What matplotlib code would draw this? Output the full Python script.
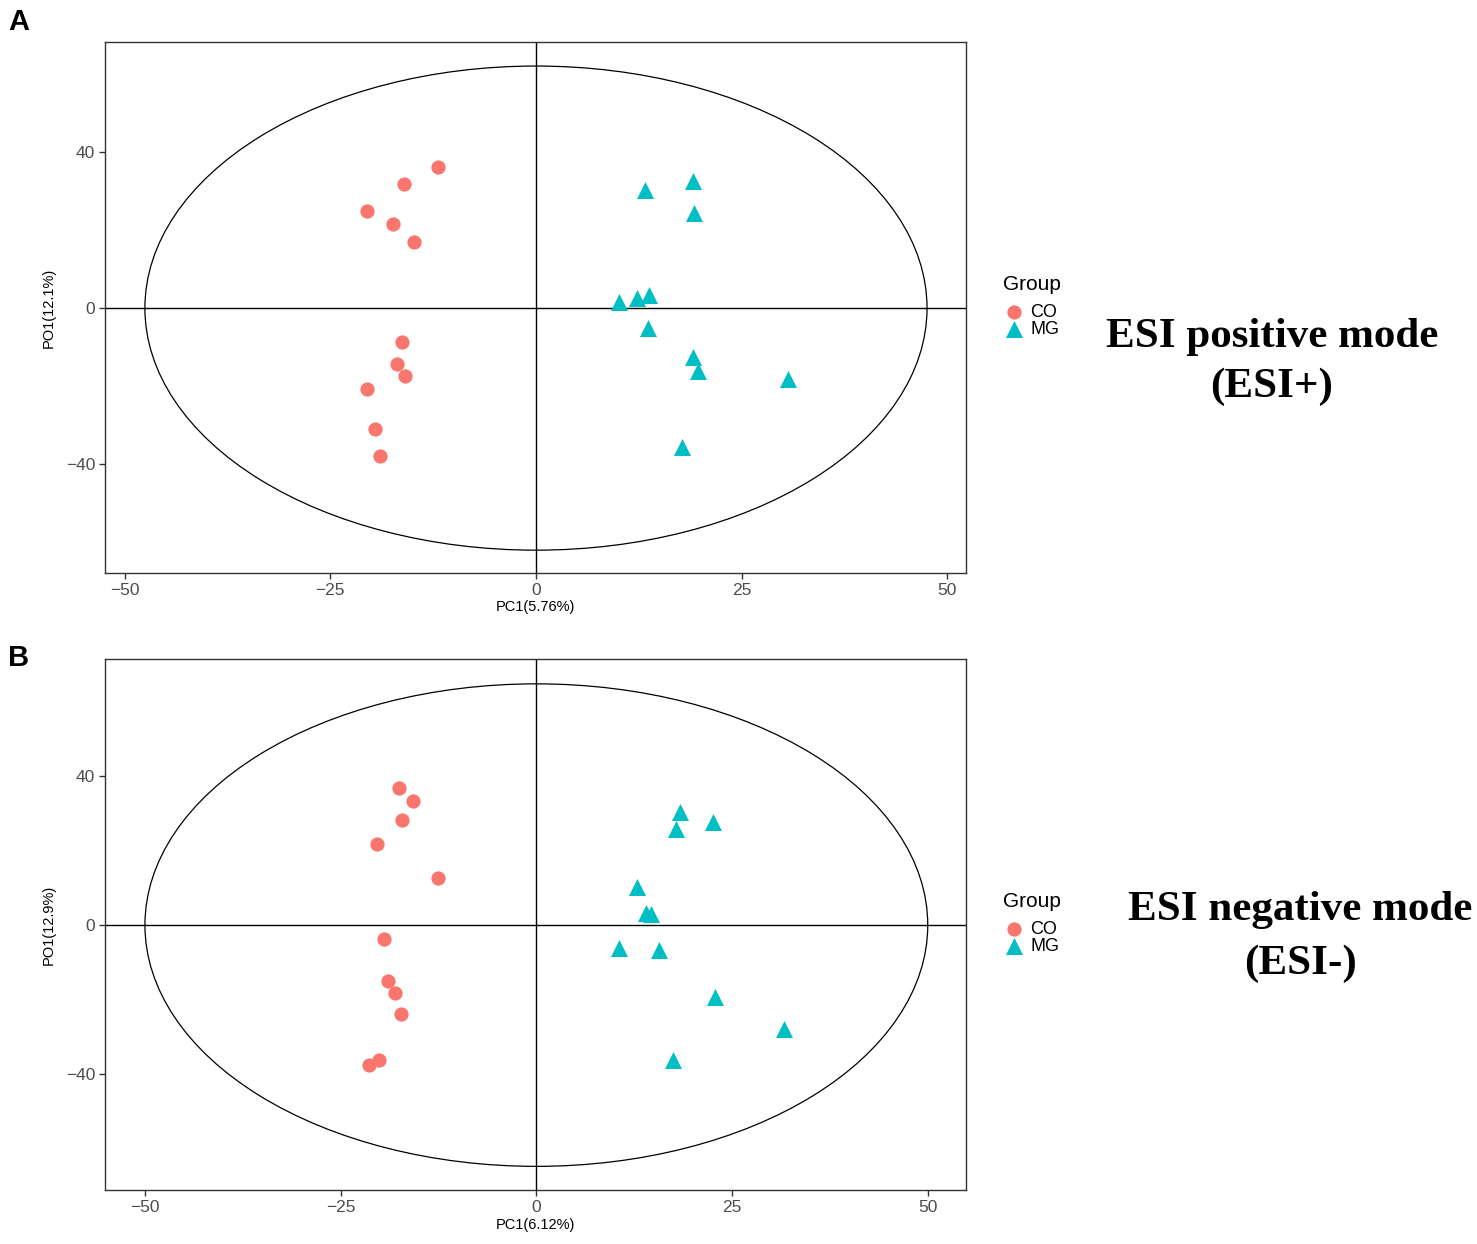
import matplotlib.pyplot as plt
from matplotlib.patches import Ellipse

plt.rcParams['font.family'] = ['Liberation Sans', 'DejaVu Sans']

# --- DATA ---
# panel A, ESI+
co_x_pos = [-11.9, -16.1, -20.5, -17.4, -14.8, -16.3, -16.9, -15.9, -20.5, -19.6, -19.0]
co_y_pos = [36.1, 31.8, 24.9, 21.6, 16.9, -8.6, -14.4, -17.5, -20.8, -30.9, -37.8]
mg_x_pos = [13.2, 19.1, 19.2, 10.1, 12.3, 13.8, 13.6, 19.1, 19.7, 30.7, 17.8]
mg_y_pos = [30.3, 32.5, 24.4, 1.5, 2.6, 3.3, -5.1, -12.6, -16.1, -18.2, -35.5]

# panel B, ESI-
co_x_neg = [-17.6, -15.7, -17.2, -20.4, -12.5, -19.5, -19.0, -18.0, -17.3, -20.1, -21.4]
co_y_neg = [36.9, 33.3, 28.1, 21.9, 12.6, -3.7, -14.9, -18.1, -23.8, -36.1, -37.6]
mg_x_neg = [18.3, 17.8, 22.6, 12.8, 14.0, 14.7, 10.6, 15.7, 22.8, 31.6, 17.5]
mg_y_neg = [30.3, 25.9, 27.7, 10.2, 3.2, 3.1, -6.2, -6.8, -19.3, -27.8, -36.1]

ellipse_pos = (95.1, 124.1)   # width, height (T2 ellipse)
ellipse_neg = (100.0, 129.5)

x_ticks = [-50, -25, 0, 25, 50]
y_ticks = [-40, 0, 40]

CO_COLOR = '#F8766D'
MG_COLOR = '#00BFC4'

fig = plt.figure(figsize=(14.77, 12.44), dpi=100)


def draw_panel(rect, cox, coy, mgx, mgy, ell, xlim, ylim, xlabel, ylabel):
    ax = fig.add_axes(rect)
    ax.axhline(0, color='black', lw=1.0, zorder=1)
    ax.axvline(0, color='black', lw=1.0, zorder=1)
    ax.add_patch(Ellipse((0, 0), ell[0], ell[1], fill=False, ec='black', lw=0.9, zorder=1))
    ax.scatter(cox, coy, s=105, marker='o', color=CO_COLOR, lw=0, zorder=3, label='CO')
    ax.scatter(mgx, mgy, s=150, marker='^', color=MG_COLOR, lw=0, zorder=3, label='MG')
    ax.set_xlim(*xlim)
    ax.set_ylim(*ylim)
    ax.set_xticks(x_ticks)
    ax.set_yticks(y_ticks)
    ax.set_xticklabels([str(t).replace('-', '\u2212') for t in x_ticks])
    ax.set_yticklabels([str(t).replace('-', '\u2212') for t in y_ticks])
    ax.tick_params(direction='out', length=4, width=1, color='#333333',
                   labelsize=12.5, labelcolor='#4D4D4D', pad=3)
    for sp in ax.spines.values():
        sp.set_color('#333333')
        sp.set_linewidth(1.0)
    ax.set_xlabel(xlabel, fontsize=10.5, labelpad=2)
    ax.set_ylabel(ylabel, fontsize=10.5, labelpad=7)
    leg = ax.legend(title='Group', loc='upper left', bbox_to_anchor=(1.035, 0.574),
                    frameon=False, fontsize=13, title_fontsize=15,
                    handletextpad=0.3, labelspacing=0.0, borderaxespad=0,
                    markerscale=1.0, handlelength=1.2)
    leg._legend_box.align = 'left'
    leg._legend_box.sep = 7
    return ax


ax_a = draw_panel([0.0711, 0.5394, 0.583, 0.4268], co_x_pos, co_y_pos, mg_x_pos, mg_y_pos,
                  ellipse_pos, (-52.4, 52.3), (-67.9, 68.2), 'PC1(5.76%)', 'PO1(12.1%)')
ax_b = draw_panel([0.0711, 0.0434, 0.583, 0.4268], co_x_neg, co_y_neg, mg_x_neg, mg_y_neg,
                  ellipse_neg, (-55.1, 54.9), (-71.1, 71.4), 'PC1(6.12%)', 'PO1(12.9%)')

# panel letters
fig.text(19 / 1477, 1 - 22 / 1244, 'A', fontsize=21, fontweight='bold', ha='center', va='center')
fig.text(19 / 1477, 1 - 658 / 1244, 'B', fontsize=21, fontweight='bold', ha='center', va='center')

# mode annotations
fig.text(1272 / 1477, 1 - 362 / 1244, 'ESI positive mode\n(ESI+)', fontsize=31,
         fontweight='bold', family='Liberation Serif', ha='center', va='center',
         linespacing=1.36)
fig.text(1300 / 1477, 1 - 937 / 1244, 'ESI negative mode\n(ESI-)', fontsize=31,
         fontweight='bold', family='Liberation Serif', ha='center', va='center',
         linespacing=1.5)

fig.savefig('out.png', dpi=100)
plt.close()
